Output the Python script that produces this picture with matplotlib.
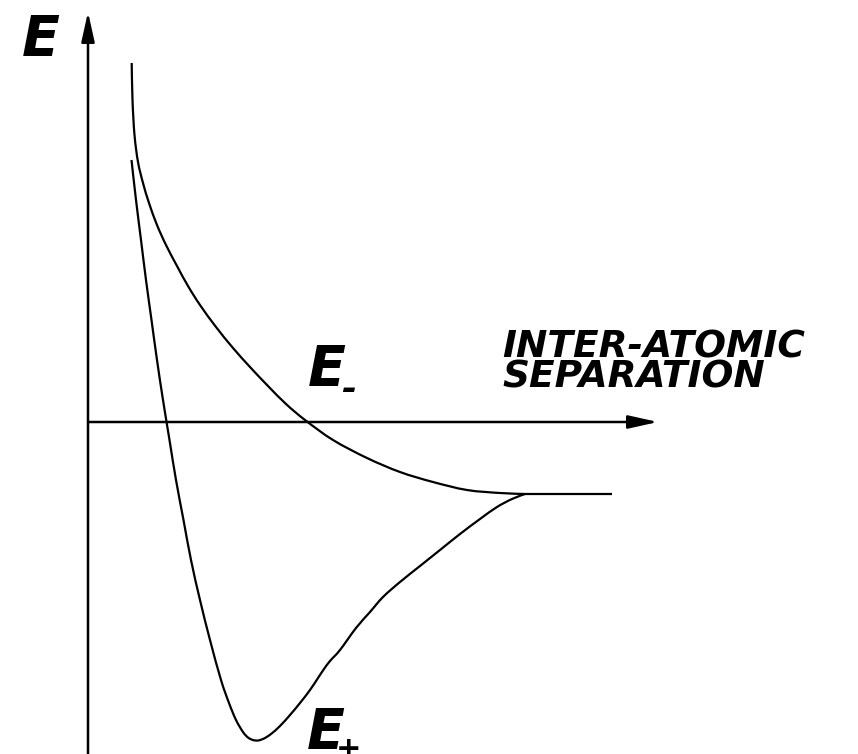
import matplotlib
matplotlib.use("Agg")
import matplotlib.pyplot as plt
from matplotlib.path import Path
from matplotlib.patches import PathPatch

# E- curve (antibonding), data units: separation vs energy
em_x = [0.437, 0.445, 0.465, 0.50, 0.55, 0.61, 0.69, 0.78, 0.89, 1.00, 1.12, 1.28, 1.45, 1.62,
        1.80, 1.98, 2.17, 2.45, 2.79, 3.12, 3.45, 3.79, 4.12, 4.37]
em_y = [3.59, 3.22, 2.87, 2.60, 2.39, 2.19, 1.97, 1.77, 1.56, 1.36, 1.17, 0.95, 0.74, 0.55,
        0.36, 0.18, 0.02, -0.18, -0.36, -0.50, -0.60, -0.68, -0.71, -0.72]

# E+ curve (bonding)
ep_x = [0.435, 0.48, 0.53, 0.58, 0.635, 0.69, 0.75, 0.815, 0.88, 0.955, 1.03, 1.12, 1.22, 1.33,
        1.41, 1.48, 1.55, 1.60, 1.65, 1.70, 1.76, 1.83, 1.92, 2.02, 2.12, 2.22, 2.30, 2.36, 2.42,
        2.52, 2.68, 2.82, 2.95, 3.12, 3.32, 3.52, 3.72, 3.92, 4.09, 4.24, 4.37]
ep_y = [2.62, 2.22, 1.82, 1.42, 1.02, 0.62, 0.22, -0.18, -0.58, -0.98, -1.38, -1.78, -2.18, -2.58,
        -2.81, -2.98, -3.10, -3.155, -3.18, -3.185, -3.165, -3.12, -3.04, -2.93, -2.81, -2.68, -2.56,
        -2.47, -2.39, -2.28, -2.06, -1.90, -1.75, -1.60, -1.44, -1.28, -1.12, -0.97, -0.85, -0.77, -0.72]

# dissociation limit
flat_x = [4.37, 5.24]
flat_y = [-0.72, -0.72]

# axes extents
x_axis_end = 5.70
y_axis_top = 4.10


def smooth_path(xs, ys):
    """Bezier path through the given points (Catmull-Rom tangents)."""
    pts = list(zip(xs, ys))
    verts = [pts[0]]
    codes = [Path.MOVETO]
    n = len(pts)
    for i in range(n - 1):
        p0 = pts[i - 1] if i > 0 else pts[i]
        p1 = pts[i]
        p2 = pts[i + 1]
        p3 = pts[i + 2] if i + 2 < n else pts[i + 1]
        c1 = (p1[0] + (p2[0] - p0[0]) / 6.0, p1[1] + (p2[1] - p0[1]) / 6.0)
        c2 = (p2[0] - (p3[0] - p1[0]) / 6.0, p2[1] - (p3[1] - p1[1]) / 6.0)
        verts += [c1, c2, p2]
        codes += [Path.CURVE4] * 3
    return Path(verts, codes)


fig = plt.figure(figsize=(8.58, 7.54), dpi=100)
ax = fig.add_axes([0, 0, 1, 1])
ax.set_xlim(-0.88, 7.70)
ax.set_ylim(-3.32, 4.22)
ax.axis("off")

lw = 1.6
for xs, ys in [(em_x, em_y), (ep_x, ep_y)]:
    ax.add_patch(PathPatch(smooth_path(xs, ys), facecolor="none", edgecolor="black",
                           lw=lw, capstyle="butt", joinstyle="round"))
ax.plot(flat_x, flat_y, color="black", lw=lw, solid_capstyle="butt")

arrow = dict(arrowstyle="-|>,head_length=0.9,head_width=0.2", color="black",
             lw=1.8, shrinkA=0, shrinkB=0, mutation_scale=20)
ax.annotate("", xy=(0, y_axis_top), xytext=(0, -3.40), arrowprops=arrow)
ax.annotate("", xy=(x_axis_end, 0), xytext=(0, 0), arrowprops=arrow)

font = dict(family="DejaVu Sans", weight="bold", style="oblique", color="black")
ax.text(-0.66, 3.67, "E", fontsize=40, ha="left", va="baseline", **font)
ax.text(2.20, 0.37, "E", fontsize=40, ha="left", va="baseline", **font)
ax.text(2.61, 0.32, "-", fontsize=26, ha="center", va="center", **font)
ax.text(2.19, -3.26, "E", fontsize=40, ha="left", va="baseline", **font)
ax.text(2.61, -3.28, "+", fontsize=22, ha="center", va="center", **font)
ax.text(4.14, 0.64, "INTER-ATOMIC", fontsize=27, ha="left", va="baseline", **font)
ax.text(4.14, 0.35, "SEPARATION", fontsize=27, ha="left", va="baseline", **font)

fig.savefig("out.png", dpi=100)
